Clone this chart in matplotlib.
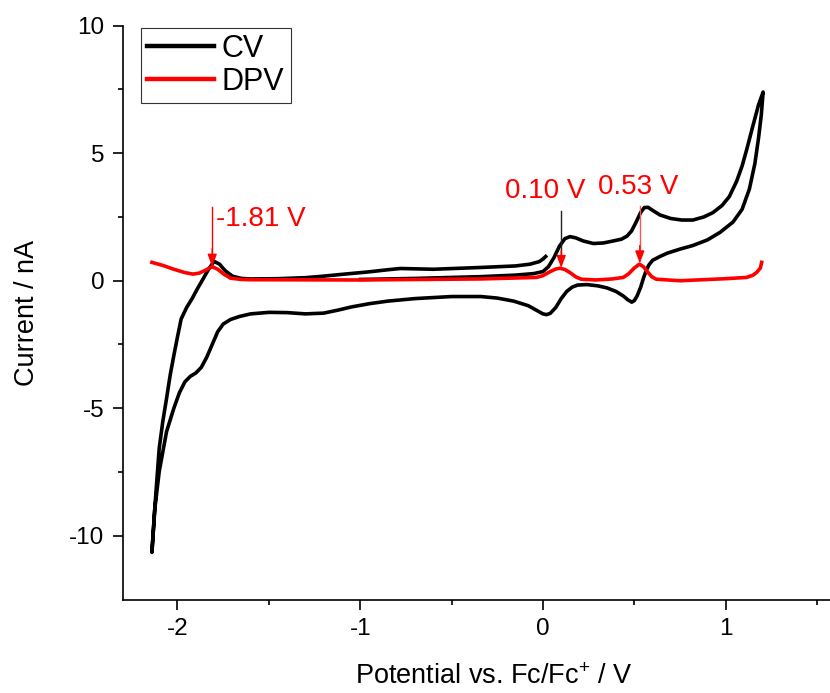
import numpy as np
import matplotlib
matplotlib.use("Agg")
import matplotlib.pyplot as plt

# CV trace, in scan order (V vs Fc/Fc+, nA)
cv_x = [-1.00, -0.70, -0.34, -0.15, -0.05, 0.00, 0.03, 0.06, 0.09, 0.12, 0.148, 0.18, 0.22,
        0.276, 0.33, 0.385, 0.43, 0.46, 0.485, 0.51, 0.535, 0.555, 0.575, 0.60, 0.64, 0.70,
        0.76, 0.82, 0.88, 0.93, 0.98, 1.02, 1.06, 1.09, 1.115, 1.15, 1.18, 1.205,
        1.195, 1.18, 1.16, 1.13, 1.09, 1.04, 0.97, 0.90, 0.82, 0.75, 0.68, 0.64, 0.60, 0.58,
        0.565, 0.55, 0.535, 0.515, 0.50, 0.486, 0.465, 0.44, 0.40, 0.35, 0.30, 0.24, 0.19,
        0.16, 0.13, 0.10, 0.07, 0.04, 0.02, 0.00, -0.03, -0.08, -0.16, -0.25, -0.34, -0.50,
        -0.70, -0.85, -0.95, -1.05, -1.12, -1.20, -1.30, -1.40, -1.50, -1.60, -1.66, -1.71,
        -1.75, -1.78, -1.81, -1.84, -1.87, -1.90, -1.93, -1.96, -1.99, -2.02, -2.06, -2.10,
        -2.125, -2.14,
        -2.13, -2.12, -2.10, -2.08, -2.06, -2.04, -2.02, -2.00, -1.98, -1.95, -1.92, -1.89,
        -1.86, -1.83, -1.80, -1.77, -1.74, -1.70, -1.65, -1.60, -1.45, -1.30, -1.20, -1.10,
        -0.95, -0.85, -0.78, -0.60, -0.34, -0.15, -0.07, -0.02, 0.00, 0.015]
cv_y = [0.05, 0.09, 0.16, 0.22, 0.28, 0.36, 0.55, 0.90, 1.35, 1.65, 1.73, 1.68, 1.56,
        1.46, 1.48, 1.56, 1.63, 1.75, 1.95, 2.30, 2.68, 2.87, 2.88, 2.76, 2.58, 2.44,
        2.38, 2.38, 2.50, 2.67, 2.95, 3.30, 3.90, 4.50, 5.14, 6.10, 6.90, 7.40,
        6.50, 5.60, 4.60, 3.60, 2.80, 2.30, 1.90, 1.60, 1.38, 1.24, 1.08, 0.95, 0.80, 0.62,
        0.40, 0.10, -0.25, -0.60, -0.78, -0.84, -0.75, -0.60, -0.42, -0.28, -0.20, -0.15, -0.17,
        -0.25, -0.42, -0.70, -1.05, -1.28, -1.33, -1.30, -1.18, -0.98, -0.80, -0.68, -0.62, -0.62,
        -0.70, -0.80, -0.90, -1.03, -1.15, -1.27, -1.30, -1.25, -1.24, -1.30, -1.40, -1.52,
        -1.70, -2.00, -2.50, -3.00, -3.40, -3.62, -3.75, -3.97, -4.40, -5.00, -5.92, -7.48,
        -9.00, -10.65,
        -9.50, -8.50, -6.57, -5.50, -4.62, -3.70, -2.93, -2.20, -1.50, -1.05, -0.70, -0.30,
        0.07, 0.45, 0.76, 0.65, 0.40, 0.18, 0.09, 0.07, 0.08, 0.12, 0.18, 0.25,
        0.35, 0.43, 0.48, 0.45, 0.52, 0.58, 0.65, 0.75, 0.85, 0.95]

# DPV trace
dpv_x = [-2.14, -2.08, -2.02, -1.96, -1.915, -1.88, -1.845, -1.81, -1.78, -1.745, -1.71,
         -1.65, -1.60, -1.00, -0.34, -0.034, 0.00, 0.04, 0.07, 0.094, 0.12, 0.148, 0.18,
         0.21, 0.29, 0.38, 0.44, 0.47, 0.50, 0.528, 0.55, 0.57, 0.595, 0.62, 0.75, 1.00,
         1.115, 1.15, 1.17, 1.19, 1.197]
dpv_y = [0.72, 0.60, 0.45, 0.32, 0.26, 0.30, 0.42, 0.55, 0.45, 0.25, 0.10,
         0.05, 0.04, 0.03, 0.07, 0.13, 0.20, 0.36, 0.46, 0.49, 0.44, 0.32, 0.15,
         0.06, 0.03, 0.07, 0.13, 0.28, 0.50, 0.65, 0.55, 0.37, 0.16, 0.06, 0.00, 0.08,
         0.13, 0.22, 0.33, 0.50, 0.72]

# labelled DPV peaks: potential, current at peak, arrow top, label text
peak_x = [-1.81, 0.10, 0.53]
peak_y = [0.55, 0.50, 0.68]
peak_top = [2.90, 2.74, 2.93]
peak_labels = ["-1.81 V", "0.10 V", "0.53 V"]
peak_text_x = [-1.79, -0.207, 0.303]
peak_text_y = [2.15, 3.26, 3.39]
arrow_line_colors = ["red", "#222222", "#ff5555"]

plt.rcParams['font.family'] = ['Liberation Sans', 'DejaVu Sans']
plt.rcParams['axes.unicode_minus'] = False
plt.rcParams['mathtext.fontset'] = 'custom'
plt.rcParams['mathtext.rm'] = 'Liberation Sans'
plt.rcParams['mathtext.it'] = 'Liberation Sans'

fig = plt.figure(figsize=(8.3, 6.93), dpi=100)
ax = fig.add_axes([0.1478, 0.1349, 1 - 0.1478, 0.9629 - 0.1349])

ax.plot(cv_x, cv_y, color="black", lw=2.6, solid_joinstyle="round", label="CV", zorder=3)
ax.plot(dpv_x, dpv_y, color="#ff0000", lw=2.6, solid_joinstyle="round", label="DPV", zorder=4)

for px, py, top, lab, tx, ty, lc in zip(peak_x, peak_y, peak_top, peak_labels,
                                        peak_text_x, peak_text_y, arrow_line_colors):
    ax.plot([px, px], [top, py + 0.5], color=lc, lw=1.0, zorder=5)
    ax.annotate("", xy=(px, py), xytext=(px, py + 0.7),
                arrowprops=dict(arrowstyle="-|>,head_length=0.75,head_width=0.28",
                                color="red", lw=1.0, shrinkA=0, shrinkB=0), zorder=6)
    ax.text(tx, ty, lab, color="red", fontsize=20, ha="left", va="baseline", zorder=6)

ax.set_xlim(-2.30, 1.571)
ax.set_ylim(-12.5, 10)
ax.set_xticks([-2, -1, 0, 1])
ax.set_xticks([-1.5, -0.5, 0.5, 1.5], minor=True)
ax.set_yticks([-10, -5, 0, 5, 10])
ax.set_yticks([-7.5, -2.5, 2.5, 7.5], minor=True)

for s in ["top", "right"]:
    ax.spines[s].set_visible(False)
for s in ["left", "bottom"]:
    ax.spines[s].set_linewidth(1.2)

ax.tick_params(which="major", direction="out", length=7, width=1.2, labelsize=17.5, pad=6)
ax.tick_params(which="minor", direction="out", length=3.6, width=1.2)

# x label sits right of the axes centre (original axis ran past the crop)
ax.set_xlabel("Potential vs. Fc/Fc$^{+}$ / V", fontsize=19.5, va="top")
ax.xaxis.set_label_coords(0.525, -0.113)
ax.set_ylabel("Current / nA", fontsize=19.5, labelpad=21)

leg = ax.legend(loc="upper left", bbox_to_anchor=(0.0259, 0.996), borderaxespad=0,
                fontsize=22, frameon=True, fancybox=False, framealpha=1,
                handlelength=2.2, handletextpad=0.25, borderpad=0.2, labelspacing=0.1)
leg.get_frame().set_edgecolor("#333333")
leg.get_frame().set_linewidth(0.8)
for line in leg.get_lines():
    line.set_linewidth(3.2)

fig.savefig("out.png", dpi=100)
